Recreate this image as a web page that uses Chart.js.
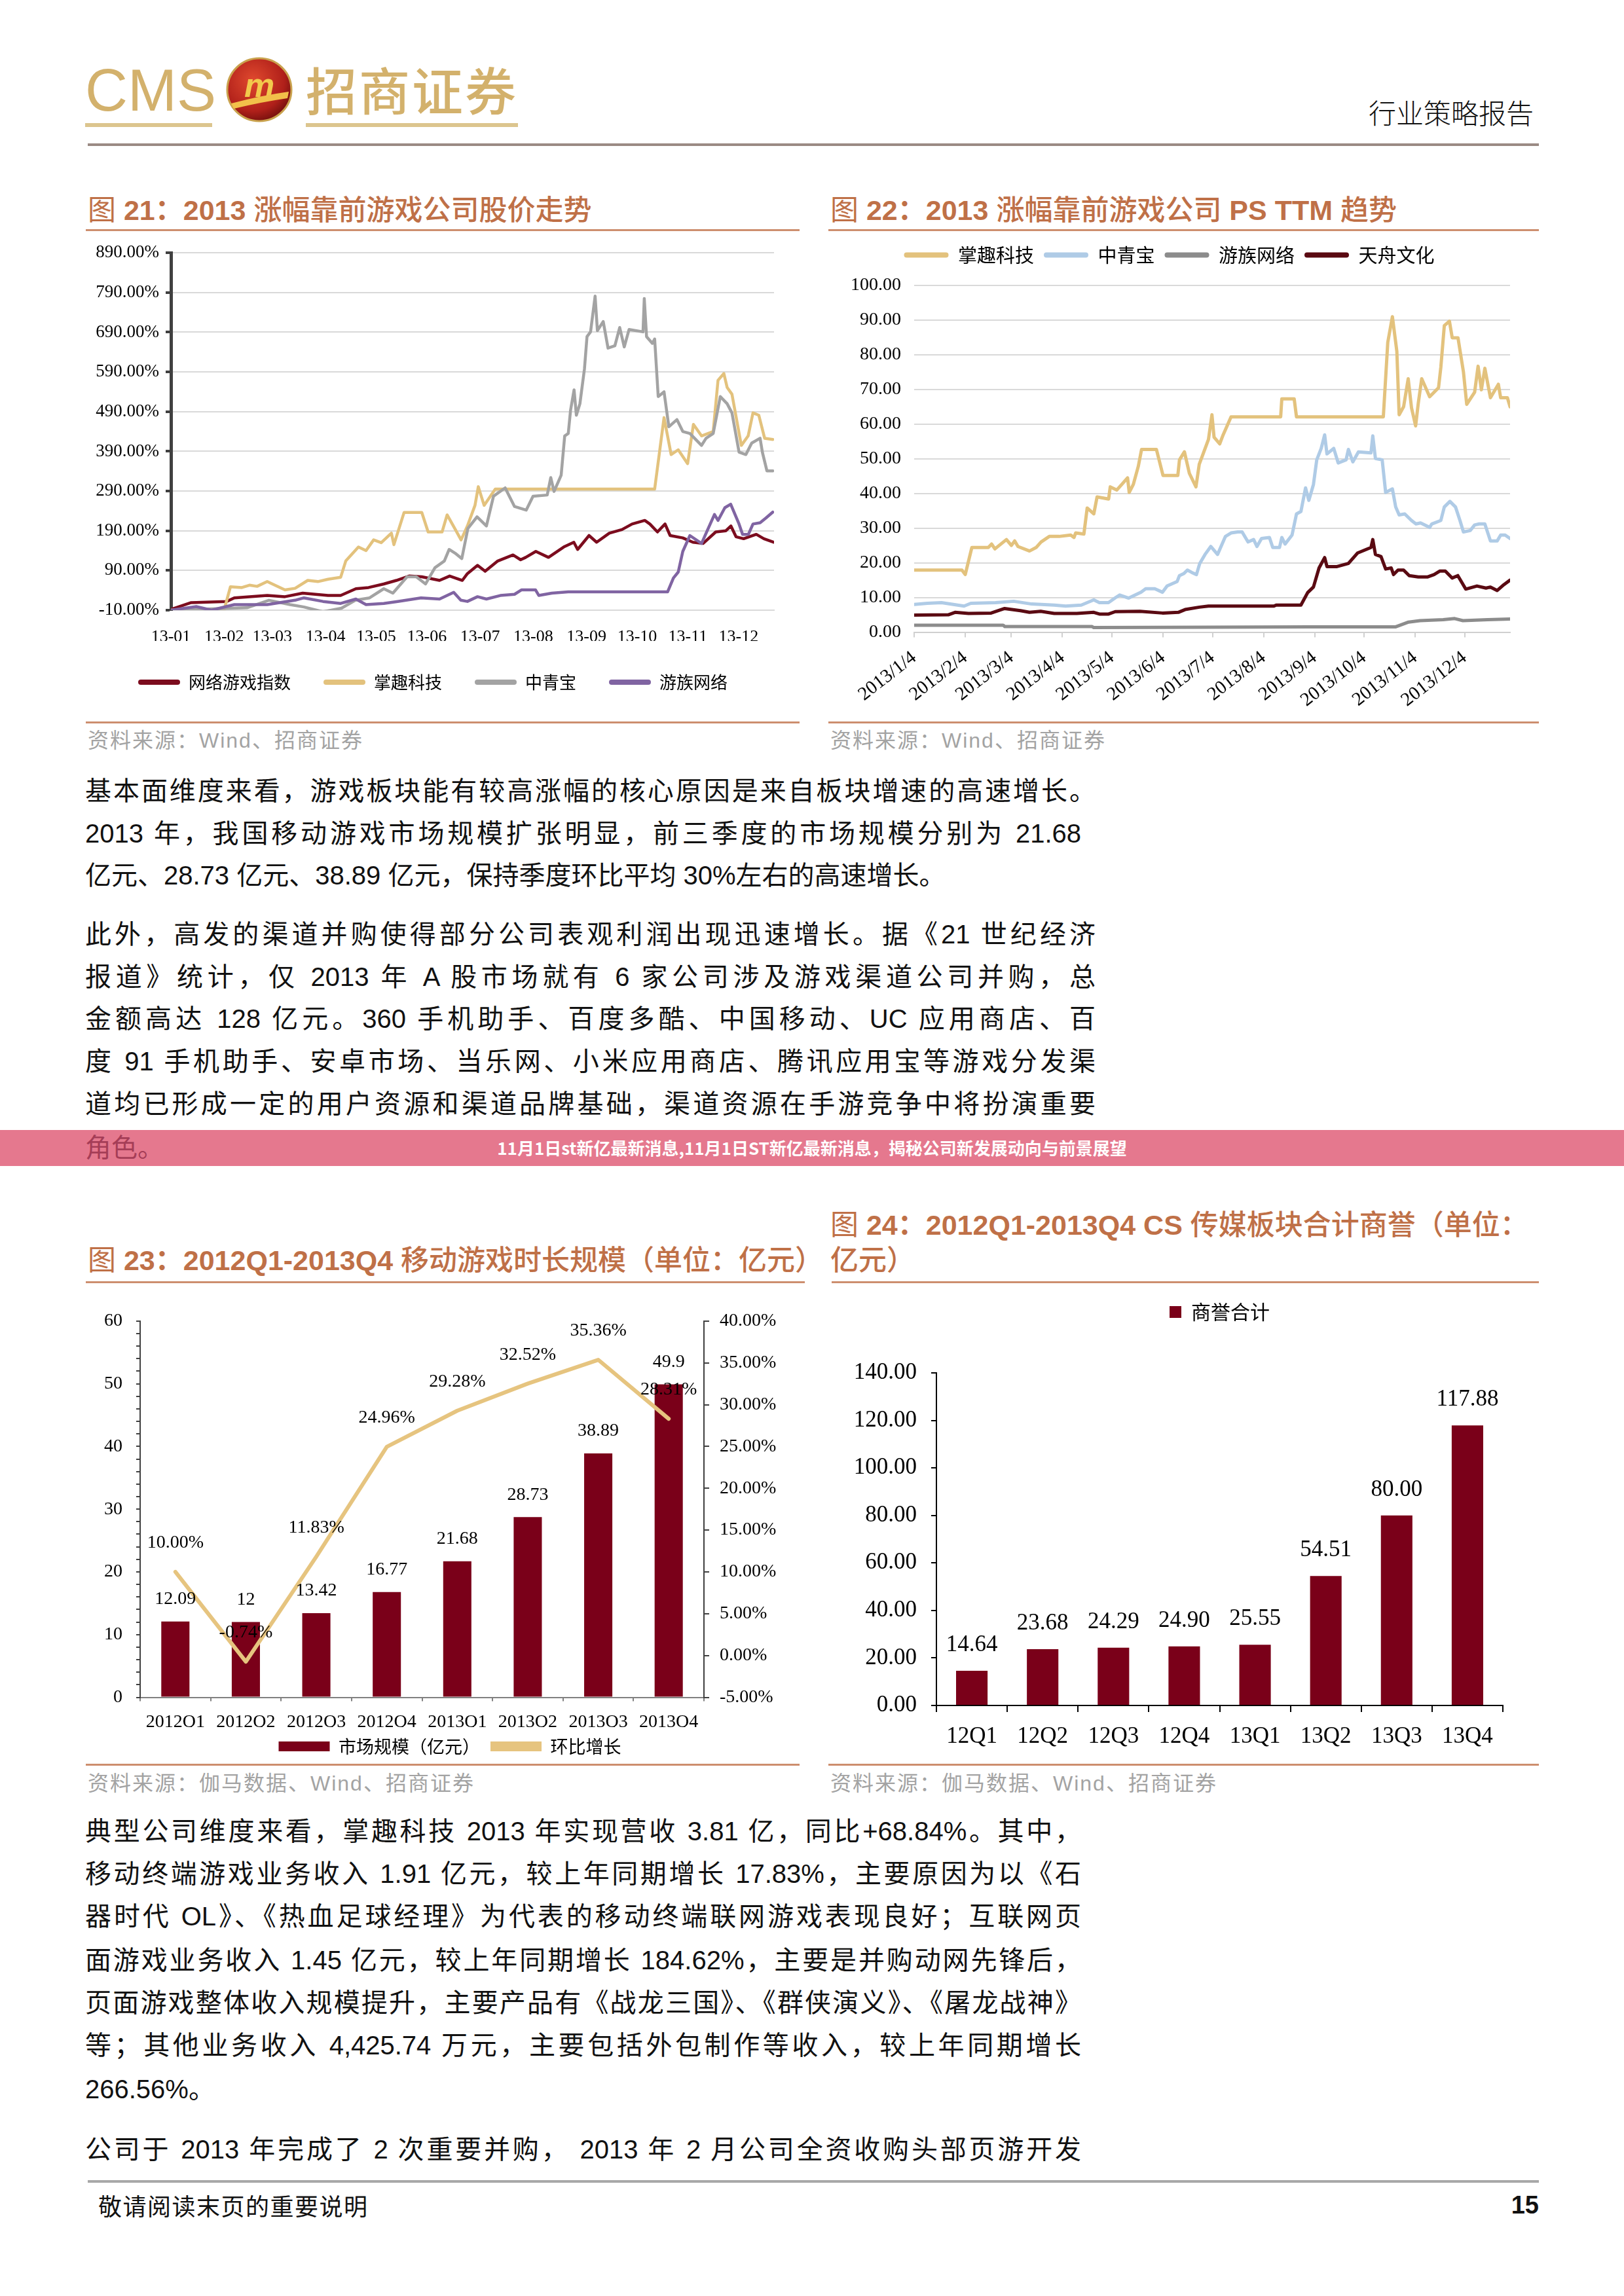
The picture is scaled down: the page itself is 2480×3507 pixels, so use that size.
<!DOCTYPE html>
<html><head><meta charset="utf-8">
<script src="https://cdn.jsdelivr.net/npm/chart.js@4.4.1/dist/chart.umd.min.js"></script>
<style>
html,body{margin:0;padding:0;background:#fff;}
#page{position:relative;width:2480px;height:3507px;overflow:hidden;background:#fff;font-family:"Liberation Sans","Noto Sans CJK SC",sans-serif;}
.abs{position:absolute;}
.title{position:absolute;color:#BF7047;font-size:43px;line-height:43px;white-space:nowrap;font-weight:500;}
.title b{font-weight:700;}
.title i{font-style:normal;font-weight:400;}
.rule{position:absolute;height:3px;background:#CD8E6E;}
.src{position:absolute;color:#A3A3A3;font-size:32px;line-height:32px;letter-spacing:2px;white-space:nowrap;}
.ln{position:absolute;left:130px;width:1543px;font-size:40px;line-height:40px;color:#111;}
.ln.j{text-align:justify;text-align-last:justify;}
canvas{position:absolute;}
</style>
</head>
<body>
<div id="page">
  <!-- header -->
  <div class="abs" style="left:130px;top:93px;font-size:90px;line-height:90px;color:#D3B16C;font-family:'Liberation Sans';">CMS</div>
  <svg class="abs" style="left:343px;top:86px" width="106" height="102" viewBox="0 0 106 102">
    <defs><radialGradient id="rg" cx="40%" cy="35%" r="70%"><stop offset="0" stop-color="#E0492E"/><stop offset="0.7" stop-color="#B0201A"/><stop offset="1" stop-color="#6E0E0C"/></radialGradient></defs>
    <ellipse cx="53" cy="51" rx="49" ry="48" fill="url(#rg)" stroke="#C9A24E" stroke-width="3"/>
    <text x="53" y="62" text-anchor="middle" font-family="Liberation Sans" font-weight="700" font-style="italic" font-size="52" fill="#F2C94C">m</text>
    <path d="M10 72 Q55 60 98 54 L96 64 Q55 70 14 80 Z" fill="#F2C04A"/>
  </svg>
  <div class="abs" style="left:467px;top:96px;font-size:78px;line-height:78px;letter-spacing:3px;color:#D3B16C;font-family:'Noto Sans CJK SC';font-weight:500;">招商证券</div>
  <div class="abs" style="left:130px;top:188px;width:194px;height:6px;background:#DCC58E;"></div>
  <div class="abs" style="left:467px;top:188px;width:324px;height:6px;background:#DCC58E;"></div>
  <div class="abs" style="left:2090px;top:150px;font-size:42px;line-height:42px;color:#111;font-family:'Noto Sans CJK SC';font-weight:300;">行业策略报告</div>
  <div class="abs" style="left:134px;top:219px;width:2216px;height:4px;background:#9A8A84;"></div>

  <!-- chart titles row 1 -->
  <div class="title" style="left:134px;top:300px;"><i>图</i> <b>21：2013</b> 涨幅靠前游戏公司股价走势</div>
  <div class="rule" style="left:131px;top:350px;width:1090px;"></div>
  <div class="title" style="left:1268px;top:300px;"><i>图</i> <b>22：2013</b> 涨幅靠前游戏公司 <b>PS TTM</b> 趋势</div>
  <div class="rule" style="left:1265px;top:350px;width:1085px;"></div>

  <canvas id="c21" width="1082" height="705" style="left:140px;top:360px;"></canvas>
  <canvas id="c22" width="1076" height="731" style="left:1265px;top:360px;"></canvas>

  <div class="rule" style="left:131px;top:1102px;width:1090px;"></div>
  <div class="rule" style="left:1265px;top:1102px;width:1085px;"></div>
  <div class="src" style="left:134px;top:1115px;">资料来源：Wind、招商证券</div>
  <div class="src" style="left:1268px;top:1115px;">资料来源：Wind、招商证券</div>

  <!-- paragraph 1 -->
  <div class="ln j" style="top:1188px;">基本面维度来看，游戏板块能有较高涨幅的核心原因是来自板块增速的高速增长。</div>
  <div class="ln j" style="top:1253px;width:1521px;">2013 年，我国移动游戏市场规模扩张明显，前三季度的市场规模分别为 21.68</div>
  <div class="ln" style="top:1317px;">亿元、28.73 亿元、38.89 亿元，保持季度环比平均 30%左右的高速增长。</div>
  <!-- paragraph 2 -->
  <div class="ln j" style="top:1407px;">此外，高发的渠道并购使得部分公司表观利润出现迅速增长。据《21 世纪经济</div>
  <div class="ln j" style="top:1472px;">报道》统计，仅 2013 年 A 股市场就有 6 家公司涉及游戏渠道公司并购，总</div>
  <div class="ln j" style="top:1536px;">金额高达 128 亿元。360 手机助手、百度多酷、中国移动、UC 应用商店、百</div>
  <div class="ln j" style="top:1601px;">度 91 手机助手、安卓市场、当乐网、小米应用商店、腾讯应用宝等游戏分发渠</div>
  <div class="ln j" style="top:1666px;">道均已形成一定的用户资源和渠道品牌基础，渠道资源在手游竞争中将扮演重要</div>

  <!-- banner -->
  <div class="abs" style="left:0;top:1726px;width:2480px;height:55px;background:#E5788E;"></div>
  <div class="ln" style="top:1733px;color:rgba(110,10,40,0.55);">角色。</div>
  <div class="abs" style="left:0;top:1739px;width:2480px;text-align:center;font-size:26px;line-height:28px;color:#fff;font-weight:700;font-family:'Noto Sans CJK SC';">11月1日st新亿最新消息,11月1日ST新亿最新消息，揭秘公司新发展动向与前景展望</div>

  <!-- chart titles row 2 -->
  <div class="title" style="left:134px;top:1904px;"><i>图</i> <b>23：2012Q1-2013Q4</b> 移动游戏时长规模（单位：亿元）</div>
  <div class="rule" style="left:131px;top:1957px;width:1098px;"></div>
  <div class="title" style="left:1268px;top:1850px;"><i>图</i> <b>24：2012Q1-2013Q4 CS</b> 传媒板块合计商誉（单位：</div>
  <div class="title" style="left:1268px;top:1904px;">亿元）</div>
  <div class="rule" style="left:1270px;top:1957px;width:1080px;"></div>

  <canvas id="c23" width="1134" height="711" style="left:120px;top:1980px;"></canvas>
  <canvas id="c24" width="1196" height="715" style="left:1265px;top:1970px;"></canvas>

  <div class="rule" style="left:131px;top:2694px;width:1090px;"></div>
  <div class="rule" style="left:1265px;top:2694px;width:1085px;"></div>
  <div class="src" style="left:134px;top:2708px;">资料来源：伽马数据、Wind、招商证券</div>
  <div class="src" style="left:1268px;top:2708px;">资料来源：伽马数据、Wind、招商证券</div>

  <!-- paragraph 3 -->
  <div class="ln j" style="top:2777px;width:1521px;">典型公司维度来看，掌趣科技 2013 年实现营收 3.81 亿，同比+68.84%。其中，</div>
  <div class="ln j" style="top:2842px;width:1521px;">移动终端游戏业务收入 1.91 亿元，较上年同期增长 17.83%，主要原因为以《石</div>
  <div class="ln j" style="top:2907px;width:1521px;">器时代 OL》、《热血足球经理》为代表的移动终端联网游戏表现良好；互联网页</div>
  <div class="ln j" style="top:2974px;width:1521px;">面游戏业务收入 1.45 亿元，较上年同期增长 184.62%，主要是并购动网先锋后，</div>
  <div class="ln j" style="top:3039px;width:1521px;">页面游戏整体收入规模提升，主要产品有《战龙三国》、《群侠演义》、《屠龙战神》</div>
  <div class="ln j" style="top:3104px;width:1521px;">等；其他业务收入 4,425.74 万元，主要包括外包制作等收入，较上年同期增长</div>
  <div class="ln" style="top:3171px;">266.56%。</div>
  <div class="ln j" style="top:3263px;width:1521px;">公司于 2013 年完成了 2 次重要并购， 2013 年 2 月公司全资收购头部页游开发</div>

  <!-- footer -->
  <div class="abs" style="left:134px;top:3330px;width:2216px;height:4px;background:#A8A8A8;"></div>
  <div class="abs" style="left:150px;top:3350px;font-size:36px;line-height:36px;letter-spacing:1.5px;color:#111;font-family:'Noto Sans CJK SC';">敬请阅读末页的重要说明</div>
  <div class="abs" style="left:2250px;top:3349px;width:100px;text-align:right;font-size:38px;line-height:38px;color:#111;font-weight:700;">15</div>
</div>

<script>
// ---------- Chart 21 data: trading-day index vs cumulative return (%) ----------
const monthStart21 = [0, 21, 40, 61, 81, 101, 122, 143, 164, 184, 204, 224];
const monthLabels21 = ['13-01','13-02','13-03','13-04','13-05','13-06','13-07','13-08','13-09','13-10','13-11','13-12'];
const yTicks21 = [-10, 90, 190, 290, 390, 490, 590, 690, 790, 890];

const indexDays21 = [0,8,22,25,38,45,52,62,67,73,78,84,89,94,99,106,110,115,117,121,124,129,135,138,140,144,149,155,159,160.5,165,168,173,178,182,187,189,192,195,197,202,206,210,215,219,221,223,226,231,234,238];
const indexVals21 = [-8,9,12,21,27,24,33,27,27,44,47,56,65,76,74,65,76,65,82,103,88,114,129,117,123,138,123,149,161,143,178,161,184,193,207,216,207,187,207,178,172,161,158,187,190,202,175,170,181,170,161];

const zqDays21 = [0,10,21,23.5,28,31,34,38,41,45,49,54,58,62,67,69,74,77,80,83,87,88,92,99,101.5,107,109,112,114.5,117,120,121.3,123.6,128,190.9,194.6,197.4,200.2,203.9,206.2,209.4,214,215.9,218.2,219.5,221.4,225.1,227.8,229.7,232,234.3,237.5];
const zqVals21 = [-10,-8,-9,49,47,53,50,62,53,41,45,65,62,68,73,114,149,140,167,160,184,155,236,236,187,187,230,196,167,202,254,301,254,295,295,475,382,394,359,458,429,440,569,586,551,534,405,429,487,481,423,420];

const zqbDays21 = [0,20,30,38.7,47,52.5,60,67.3,72.8,78.4,84,87.6,93.2,96.8,100.5,104.2,107.9,109.8,112.5,114.8,117.2,120.8,124.5,127.3,131.9,135.6,140.2,142.9,148.5,149.9,151.2,154,155.4,156.8,157.7,159.1,160,161.4,163.2,164.2,165.6,167.4,168.3,170.6,172.5,175.2,177.1,178.9,180.8,186.3,186.8,187.7,190,190.9,192.3,194.6,196.5,199.7,202,204.8,209.4,211.2,214,216.8,219.5,221.4,224.2,226.9,229.2,232.5,233.4,235.2,237.5];
const zqbVals21 = [-10,-6,-4,15,4,-2,-14,-5,15,21,44,33,74,74,56,97,114,143,132,120,196,225,202,277,298,251,242,277,280,324,289,330,429,435,493,545,481,510,598,679,691,781,694,717,650,656,702,653,697,691,775,679,662,673,528,540,452,470,440,435,405,423,435,528,510,487,388,382,411,423,388,341,341];

const yzDays21 = [0,10,16,25,38,49,52.5,60,67,73,77,84,89.5,98.7,106,111.6,114.4,117,121,124.5,130,135.6,138.3,143.9,145.2,150.3,156.8,196,198.3,200.2,202,204.8,209.4,211.2,214.5,215.9,218.6,220.9,224.2,225.6,227.9,229.7,232.5,234.8,237.5];
const yzVals21 = [-10,-1,-10,4,4,15,21,12,7,18,4,7,12,21,18,35,15,12,24,18,27,30,41,41,27,33,36,36,71,86,138,178,158,184,231,216,248,257,207,181,181,207,210,222,237];

// ---------- Chart 22 data: days since 2013/1/4 vs PS TTM ----------
const tickDays22 = [0, 31, 59, 90, 120, 151, 181, 212, 243, 273, 304, 334];
const tickLabels22 = ['2013/1/4','2013/2/4','2013/3/4','2013/4/4','2013/5/4','2013/6/4','2013/7/4','2013/8/4','2013/9/4','2013/10/4','2013/11/4','2013/12/4'];

const zqDays22 = [0,29,31,35,45,47,49,56,59,61,63,70,74,77,82,88,95,97,98,103,105,109,111,118,119,123,126,129.5,130.5,133,136,138,147,151,160,161,164,167,171,173,178.6,180.7,182,185.4,187.5,192.3,222.4,223.1,230.6,232,284.7,287.4,290.2,292.9,294.3,297,299.8,301.8,304.3,305.9,308,312.8,318.2,319.6,321.7,324.8,326.5,330,333.3,335.3,340.1,342.2,344.2,346.3,349.7,354.5,355.9,360,361.6];
const zqVals22 = [17.9,17.9,16.6,24.4,24.4,25.4,24,26.7,25,26.3,24.7,23.4,24.4,26,27.6,27.6,28,27.3,28.6,28.3,35.8,34.1,39,38.4,41.9,41,42.6,44.5,40.3,42.6,47.8,52.7,52.7,45.2,45.2,49.7,52,45.8,41.9,48.4,55.6,62.7,56.2,54.3,56.9,62.1,62.1,67.3,67.3,62.1,62.1,83.6,91,81,62.7,65,73.1,64.7,59.5,66,73.1,67.9,70.5,76.4,88.4,89.7,84.9,84.9,75.1,65.7,69.2,76.7,69.9,76.1,67.6,71.5,67.6,67.6,65];

const zqbDays22 = [0,8,16.6,30.3,34.4,49.4,60.4,71.3,85,91.9,101.4,109,112.4,117.9,122.7,124.7,130.2,137.7,140.5,146,150.7,153.5,159.6,161,163.7,165.8,168.5,171.3,173.3,176.5,180,184.1,188.9,192.3,196.4,199,202.6,206,208,210.8,215.6,217.6,221.7,223.1,225.1,229.3,232,234.7,237.5,239.5,242.3,244.3,247,249.1,250.5,254.6,257.3,262.1,263.5,266.2,269.6,277.2,278.3,279.9,284,286.1,290.2,292.2,294.3,297.7,301.8,304.5,307.3,312.8,314.1,319.6,321.7,325.1,328.5,331.2,333.3,337.4,340.1,342.9,346.3,349.7,353.8,355.9,358.6,361.6];
const zqbVals22 = [8,8.3,8.5,7.5,8.3,8.5,8.9,8.1,7.8,7.5,7.8,9.3,8.5,8.5,10.1,10.7,9.8,11.5,12.5,12.5,11.5,13.3,14.6,16.3,16.9,17.9,17.2,16.6,19.8,22.4,24.7,22.4,27.6,28.6,28.9,28.9,26,26.7,24.7,27,27.3,24.4,24.4,27.3,25.4,28,34.1,34.8,41.6,38,42.6,49.7,53,56.9,51.4,53,48.8,49.7,52.7,49.1,52,51.7,56.6,50.1,49.7,40.3,41.3,36.1,33.8,34.1,32.2,31.2,31.5,30.2,31.2,32.2,36.1,37.7,36.1,32.2,28.9,29.3,30.9,31.2,31.2,26.3,26.3,28,28,27];

const yzDays22 = [0,54,55,108,109,180,240,292,300,307,321,328,333,348,361.6];
const yzVals22 = [2,2,1.6,1.6,1.3,1.4,1.5,1.5,2.9,3.3,3.6,3.9,3.3,3.6,3.8];

const tzDays22 = [0,20.7,24.8,33,46.7,54.9,64.5,70,76.8,85,98.7,109,112.4,118,122,137,150.7,160.3,164.4,173.1,178.6,218.3,219.7,234.7,238.8,242.3,245.7,249.1,250.5,256.6,263.5,269,277.2,278.3,279.9,283.3,286.1,289.5,290.9,293.6,297,300.4,305.9,311.4,315.5,318.9,322.3,326.5,329.9,334.7,341.5,347,349.7,353.8,357.9,361.6];
const tzVals22 = [4.9,5,5.7,5.4,5.5,6.8,6.2,5.7,6,5.4,5.4,5.7,5.2,5.2,5.9,6,5.5,5.7,6.5,7.2,7.5,7.5,7.8,7.8,11.4,13,18.5,21.5,18.9,18.9,19.8,22.8,24.4,26.7,22.4,21.8,18.2,18.5,16.6,17.9,17.9,16.3,15.9,15.9,16.6,17.6,17.6,15.6,16.3,12.4,13.3,12.7,13,12,13.7,15];

// ---------- Chart 23 data ----------
const quarters23 = ['2012Q1','2012Q2','2012Q3','2012Q4','2013Q1','2013Q2','2013Q3','2013Q4'];
const marketSize23 = [12.09, 12, 13.42, 16.77, 21.68, 28.73, 38.89, 49.9];
const qoqGrowth23 = [10.00, -0.74, 11.83, 24.96, 29.28, 32.52, 35.36, 28.31];

// ---------- Chart 24 data ----------
const quarters24 = ['12Q1','12Q2','12Q3','12Q4','13Q1','13Q2','13Q3','13Q4'];
const goodwill24 = [14.64, 23.68, 24.29, 24.90, 25.55, 54.51, 80.00, 117.88];

// ---------- helpers ----------
const pts = (xs, ys) => xs.map((x, i) => ({x: x, y: ys[i]}));
const SERIF = "'Liberation Serif', 'Times New Roman', serif";
const CJK = "'Noto Sans CJK SC', sans-serif";
Chart.defaults.animation = false;
Chart.defaults.responsive = false;
Chart.defaults.devicePixelRatio = 1;
Chart.defaults.color = '#000';
Chart.defaults.font.family = SERIF;
Chart.defaults.plugins.tooltip.enabled = false;

const legendExtra = {c22: 22, c24: 68};
const legendGap = {
  id: 'legendGap',
  afterInit(chart) {
    const lg = chart.legend;
    if (!lg || lg._gapPatched) return;
    const fit = lg.fit;
    lg.fit = function () { fit.call(this); this.height += (legendExtra[chart.canvas.id] || 0); };
    lg._gapPatched = true;
  }
};
const labelSets = {
  c23: [
    {index: 0, offset: 34, format: v => String(v)},
    {index: 1, offset: 44, format: v => v.toFixed(2) + '%'}
  ],
  c24: [
    {index: 0, offset: 39, format: v => v.toFixed(2)}
  ]
};
const labelFonts = {c23: '28px ' + SERIF, c24: '35px ' + SERIF};
const valueLabels = {
  id: 'valueLabels',
  afterDatasetsDraw(chart) {
    const sets = labelSets[chart.canvas.id];
    if (!sets) return;
    const ctx = chart.ctx;
    ctx.save();
    ctx.font = labelFonts[chart.canvas.id];
    ctx.fillStyle = '#000';
    ctx.textAlign = 'center';
    ctx.textBaseline = 'middle';
    sets.forEach(s => {
      const meta = chart.getDatasetMeta(s.index);
      const ds = chart.data.datasets[s.index];
      meta.data.forEach((el, i) => ctx.fillText(s.format(ds.data[i]), el.x, el.y - s.offset));
    });
    ctx.restore();
  }
};
const noStroke = chart => Chart.defaults.plugins.legend.labels.generateLabels(chart).map(l => Object.assign(l, {lineWidth: 0}));
const byIndex = (a, b) => a.datasetIndex - b.datasetIndex;
const lineDs = (label, data, color, order, width) => ({
  label, data, borderColor: color, backgroundColor: color, order,
  borderWidth: width, tension: 0, pointRadius: 0, borderJoinStyle: 'round', borderCapStyle: 'round', fill: false
});

// ---------- Chart 21 ----------
new Chart(document.getElementById('c21'), {
  type: 'line',
  data: {datasets: [
    lineDs('网络游戏指数', pts(indexDays21, indexVals21), '#7C0C1E', 4, 4.5),
    lineDs('掌趣科技', pts(zqDays21, zqVals21), '#E3C27D', 3, 4.5),
    lineDs('中青宝', pts(zqbDays21, zqbVals21), '#A3A3A3', 2, 4.5),
    lineDs('游族网络', pts(yzDays21, yzVals21), '#8064A2', 1, 4.5)
  ]},
  options: {
    layout: {padding: {top: 21, right: 40, left: 0, bottom: 0}},
    plugins: {legend: {position: 'bottom', labels: {font: {family: CJK, size: 26}, color: '#000', boxWidth: 64, boxHeight: 8, padding: 50, useBorderRadius: true, borderRadius: 4, generateLabels: noStroke, sort: byIndex}}},
    scales: {
      x: {type: 'linear', min: 0, max: 238,
        afterBuildTicks: s => { s.ticks = monthStart21.map(v => ({value: v})); },
        ticks: {callback: v => monthLabels21[monthStart21.indexOf(v)], font: {size: 26}, padding: 18, maxRotation: 0, autoSkip: false},
        grid: {display: false}, border: {color: '#D9D9D9', width: 2},
        afterFit: s => { s.height = 47; }},
      y: {min: -10, max: 890,
        afterBuildTicks: s => { s.ticks = yTicks21.map(v => ({value: v})); },
        ticks: {callback: v => v.toFixed(2) + '%', font: {size: 27}, padding: 10, autoSkip: false},
        grid: {color: '#D9D9D9', lineWidth: 2, tickColor: '#404040', tickWidth: 4, tickLength: 8},
        border: {color: '#404040', width: 5},
        afterFit: s => { s.width = 121; }}
    }
  },
  plugins: [legendGap]
});

// ---------- Chart 22 ----------
new Chart(document.getElementById('c22'), {
  type: 'line',
  data: {datasets: [
    lineDs('掌趣科技', pts(zqDays22, zqVals22), '#E3C27D', 4, 5),
    lineDs('中青宝', pts(zqbDays22, zqbVals22), '#AFCBE6', 3, 5),
    lineDs('游族网络', pts(yzDays22, yzVals22), '#8C8C8C', 2, 5),
    lineDs('天舟文化', pts(tzDays22, tzVals22), '#5A0A12', 1, 5)
  ]},
  options: {
    layout: {padding: {top: 0, right: 35, left: 0, bottom: 0}},
    plugins: {legend: {position: 'top', labels: {font: {family: CJK, size: 29}, color: '#000', boxWidth: 68, boxHeight: 8, padding: 15, useBorderRadius: true, borderRadius: 4, generateLabels: noStroke, sort: byIndex}}},
    scales: {
      x: {type: 'linear', min: 0, max: 361.6,
        afterBuildTicks: s => { s.ticks = tickDays22.map(v => ({value: v})); },
        ticks: {callback: v => tickLabels22[tickDays22.indexOf(v)], font: {size: 29}, padding: 14, minRotation: 38, maxRotation: 38, autoSkip: false},
        grid: {drawOnChartArea: false, tickLength: 8, color: '#D0D0D0', lineWidth: 2},
        border: {color: '#D0D0D0', width: 2},
        afterFit: s => { s.height = 125.5; }},
      y: {min: 0, max: 100,
        ticks: {stepSize: 10, callback: v => v.toFixed(2), font: {size: 28}, padding: 20},
        grid: {color: '#D9D9D9', lineWidth: 2, drawTicks: false},
        border: {display: false},
        afterFit: s => { s.width = 131; }}
    }
  },
  plugins: [legendGap]
});

// ---------- Chart 23 ----------
new Chart(document.getElementById('c23'), {
  type: 'bar',
  data: {labels: quarters23, datasets: [
    {type: 'bar', label: '市场规模（亿元）', data: marketSize23, backgroundColor: '#7A0019', borderWidth: 0, yAxisID: 'y', order: 2, categoryPercentage: 0.5, barPercentage: 0.8},
    {type: 'line', label: '环比增长', data: qoqGrowth23, borderColor: '#E6C47F', backgroundColor: '#E6C47F', borderWidth: 6, tension: 0, pointRadius: 0, yAxisID: 'y1', order: 1, borderJoinStyle: 'round', borderCapStyle: 'round'}
  ]},
  options: {
    layout: {padding: {top: 27, right: 0, left: 0, bottom: 0}},
    plugins: {legend: {position: 'bottom', labels: {font: {family: CJK, size: 27}, color: '#000', boxWidth: 78, boxHeight: 15, padding: 16, generateLabels: noStroke, sort: byIndex}}},
    scales: {
      x: {grid: {offset: true, drawOnChartArea: false, tickLength: 6, color: '#808080', lineWidth: 2},
        border: {color: '#808080', width: 2},
        ticks: {font: {size: 28}, padding: 15, maxRotation: 0, autoSkip: false},
        afterFit: s => { s.height = 45.5; }},
      y: {position: 'left', min: 0, max: 60,
        ticks: {stepSize: 2, autoSkip: false, callback: v => (v % 10 === 0 ? String(v) : ''), font: {size: 28}, padding: 21},
        grid: {drawOnChartArea: false, tickLength: 6, color: '#404040', lineWidth: 2},
        border: {color: '#404040', width: 2},
        afterFit: s => { s.width = 94; }},
      y1: {position: 'right', min: -5, max: 40,
        ticks: {stepSize: 5, callback: v => v.toFixed(2) + '%', font: {size: 28}, padding: 16},
        grid: {drawOnChartArea: false, tickLength: 8, color: '#404040', lineWidth: 2},
        border: {color: '#404040', width: 2},
        afterFit: s => { s.width = 179; }}
    }
  },
  plugins: [legendGap, valueLabels]
});

// ---------- Chart 24 ----------
new Chart(document.getElementById('c24'), {
  type: 'bar',
  data: {labels: quarters24, datasets: [
    {label: '商誉合计', data: goodwill24, backgroundColor: '#7A0019', borderWidth: 0, categoryPercentage: 0.5, barPercentage: 0.89}
  ]},
  options: {
    layout: {padding: {top: 0, right: 166, left: 0, bottom: 0}},
    plugins: {legend: {position: 'top', fullSize: false, labels: {font: {family: CJK, size: 30}, color: '#000', boxWidth: 18, boxHeight: 18, padding: 19, generateLabels: noStroke}}},
    scales: {
      x: {grid: {offset: true, drawOnChartArea: false, tickLength: 10, color: '#000', lineWidth: 2},
        border: {color: '#000', width: 2},
        ticks: {font: {size: 35}, padding: 17, maxRotation: 0, autoSkip: false},
        afterFit: s => { s.height = 80; }},
      y: {min: 0, max: 140,
        ticks: {stepSize: 20, callback: v => v.toFixed(2), font: {size: 35}, padding: 22},
        grid: {drawOnChartArea: false, tickLength: 8, color: '#000', lineWidth: 2},
        border: {color: '#000', width: 2},
        afterFit: s => { s.width = 165; }}
    }
  },
  plugins: [legendGap, valueLabels]
});
</script>
</body></html>
